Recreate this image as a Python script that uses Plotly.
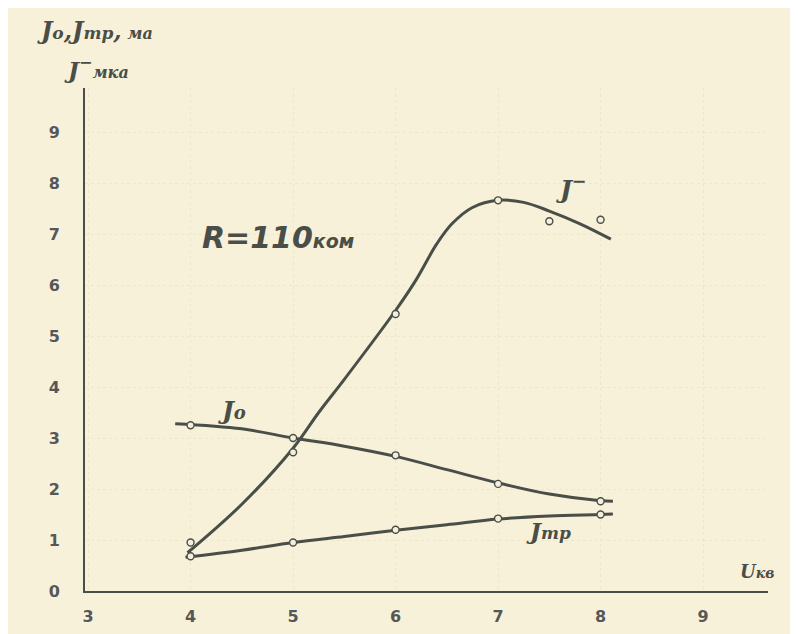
import plotly.graph_objects as go

# measured points (open circles)
x_pts = [4, 5, 6, 7, 8]
i0_pts = [3.25, 3.0, 2.66, 2.1, 1.76]
itr_pts = [0.68, 0.95, 1.2, 1.42, 1.5]
iminus_x = [4, 5, 6, 7, 7.5, 8]
iminus_pts = [0.95, 2.72, 5.43, 7.66, 7.25, 7.28]

# hand-drawn curves
i0_curve_x = [3.85, 4.5, 5, 5.5, 6, 6.5, 7, 7.5, 8, 8.12]
i0_curve_y = [3.28, 3.18, 3.0, 2.84, 2.64, 2.38, 2.12, 1.9, 1.77, 1.76]
itr_curve_x = [3.95, 4.5, 5, 5.5, 6, 6.5, 7, 7.5, 8, 8.12]
itr_curve_y = [0.66, 0.8, 0.95, 1.07, 1.19, 1.3, 1.41, 1.47, 1.5, 1.51]
im_curve_x = [3.97, 4.5, 5, 5.25, 5.5, 6, 6.2, 6.4, 6.55, 6.75, 7, 7.25, 7.5, 7.8, 8.1]
im_curve_y = [0.75, 1.7, 2.8, 3.5, 4.15, 5.5, 6.1, 6.8, 7.2, 7.52, 7.66, 7.62, 7.45, 7.2, 6.9]

x_ticks = [3, 4, 5, 6, 7, 8, 9]
y_ticks = [0, 1, 2, 3, 4, 5, 6, 7, 8, 9]

INK = "#4a4e48"
BG = "#f8f1d9"

# page offset of the figure inside the browser window (body margin)
OFF = 8
W, H = 798, 634
L, T = 85 - OFF, 88 - OFF
R = W - (768 - OFF)
B = H - (591 - OFF)
pw, ph = W - L - R, H - T - B

fig = go.Figure()
for cx, cy in [(i0_curve_x, i0_curve_y), (itr_curve_x, itr_curve_y), (im_curve_x, im_curve_y)]:
    fig.add_trace(go.Scatter(x=cx, y=cy, mode="lines",
                             line=dict(color=INK, width=3, shape="spline", smoothing=1.0),
                             hoverinfo="skip", showlegend=False))
for px, py in [(x_pts, i0_pts), (x_pts, itr_pts), (iminus_x, iminus_pts)]:
    fig.add_trace(go.Scatter(x=px, y=py, mode="markers",
                             marker=dict(symbol="circle", size=7, color="#f4efdc",
                                         line=dict(color=INK, width=1.4)),
                             showlegend=False))

SCRIPT = "DejaVu Serif"
SANS = "DejaVu Sans"


def paper_xy(px, py):
    # px, py are window pixel positions in the reference
    return (px - OFF - L) / pw, (H - B - (py - OFF)) / ph


def label(px, py, text, size, family=SCRIPT):
    xx, yy = paper_xy(px, py)
    fig.add_annotation(x=xx, y=yy, xref="paper", yref="paper", text=text, showarrow=False,
                       xanchor="center", yanchor="middle",
                       font=dict(size=size, style="italic", weight="bold", family=family, color=INK))


label(278, 237, "R=110<span style='font-size:19px'>ком</span>", 30, SANS)
label(571, 187, "J<sup>−</sup>", 25)
label(232, 410, "J<span style='font-size:18px'>o</span>", 25)
label(548, 530, "J<span style='font-size:17px'>тр</span>", 23)
label(95, 30, "J<span style='font-size:17px'>o</span>,J<span style='font-size:17px'>тр</span>,<span style='font-size:16px'> ма</span>", 24)
label(96, 68, "J<sup>−</sup><span style='font-size:16px'>мка</span>", 23)
label(757, 571, "U<span style='font-size:14px'>кв</span>", 18)

TICKFONT = dict(family=SANS, size=16, color="#55585a", weight="bold")
GRID = "rgba(120,110,80,0.08)"

fig.update_layout(
    width=W, height=H,
    margin=dict(l=L, r=R, t=T, b=B),
    paper_bgcolor=BG, plot_bgcolor=BG,
    xaxis=dict(range=[2.97, 2.97 + pw / 102.5], tickvals=x_ticks, ticktext=[str(v) for v in x_ticks],
               showline=True, linecolor=INK, linewidth=2, ticks="", zeroline=False,
               showgrid=True, gridcolor=GRID, griddash="dot", gridwidth=1,
               tickfont=TICKFONT, ticklabelstandoff=10),
    yaxis=dict(range=[0, ph / 51], tickvals=y_ticks, ticktext=[str(v) for v in y_ticks],
               showline=True, linecolor=INK, linewidth=2, ticks="", zeroline=False,
               showgrid=True, gridcolor=GRID, griddash="dot", gridwidth=1,
               tickfont=TICKFONT, ticklabelstandoff=20),
)

fig.write_html("out.html")
